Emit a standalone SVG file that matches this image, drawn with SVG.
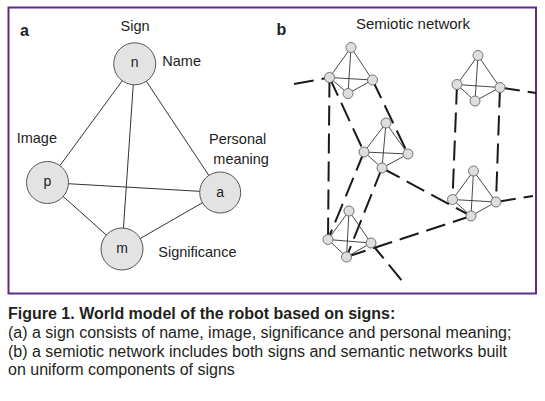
<svg xmlns="http://www.w3.org/2000/svg" width="545" height="401" viewBox="0 0 545 401">
<style>
text{font-family:"Liberation Sans",Arial,sans-serif;fill:#222}
.lbl{font-size:14.5px}
.ltr{font-size:14px;text-anchor:middle}
.pl{font-size:16px;font-weight:bold}
.cap{font-size:16px;fill:#231f20}
.big{fill:#e3e3e3;stroke:#555;stroke-width:1}
.edge{stroke:#333;stroke-width:1;fill:none}
.sm{fill:#dedede;stroke:#666;stroke-width:0.9}
.tedge{stroke:#333;stroke-width:0.9;fill:none}
.dash{stroke:#1a1a1a;stroke-width:2;fill:none;stroke-dasharray:20 8}
</style>
<rect width="545" height="401" fill="#fff"/>
<rect x="8.5" y="7.5" width="527.5" height="286" fill="#fff" stroke="#5a2d8c" stroke-width="2"/>

<!-- Panel a -->
<text class="pl" x="20" y="35.5">a</text>
<text class="lbl" x="135" y="30.5" text-anchor="middle">Sign</text>
<g id="edges-a">
<line class="edge" x1="134.7" y1="63.8" x2="47.5" y2="182.5"/>
<line class="edge" x1="134.7" y1="63.8" x2="122" y2="249"/>
<line class="edge" x1="134.7" y1="63.8" x2="220.2" y2="192.5"/>
<line class="edge" x1="47.5" y1="182.5" x2="220.2" y2="192.5"/>
<line class="edge" x1="47.5" y1="182.5" x2="122" y2="249"/>
<line class="edge" x1="122" y1="249" x2="220.2" y2="192.5"/>
</g>
<g id="node-n">
<circle class="big" cx="134.7" cy="63.8" r="21"/>
<text class="ltr" x="134.7" y="66.5">n</text>
<text class="lbl" x="162.3" y="66">Name</text>
</g>
<g id="node-p">
<circle class="big" cx="47.5" cy="182.5" r="21"/>
<text class="ltr" x="47.5" y="185.5">p</text>
<text class="lbl" x="16.7" y="142.7">Image</text>
</g>
<g id="node-a">
<circle class="big" cx="220.2" cy="192.5" r="20.5"/>
<text class="ltr" x="220.2" y="196.5">a</text>
<text class="lbl" x="209" y="144">Personal</text>
<text class="lbl" x="213.3" y="164">meaning</text>
</g>
<g id="node-m">
<circle class="big" cx="122" cy="249" r="21"/>
<text class="ltr" x="122" y="252.5">m</text>
<text class="lbl" x="158.3" y="256.7">Significance</text>
</g>

<!-- Panel b -->
<text class="pl" x="276.5" y="35">b</text>
<text x="413" y="29.3" text-anchor="middle" style="font-size:15px">Semiotic network</text>

<g id="connectors-b">
<line class="dash" x1="294" y1="84" x2="329.5" y2="77.5"/>
<line class="dash" x1="329.5" y1="77.5" x2="328" y2="239.5"/>
<line class="dash" x1="329.5" y1="77.5" x2="364" y2="152"/>
<line class="dash" x1="372.5" y1="80" x2="408" y2="154"/>
<line class="dash" x1="364" y1="152" x2="328" y2="239.5"/>
<line class="dash" x1="382" y1="168" x2="346.5" y2="257"/>
<line class="dash" x1="382" y1="168" x2="471" y2="216"/>
<line class="dash" x1="346.5" y1="257" x2="471" y2="216"/>
<line class="dash" x1="371" y1="243" x2="403" y2="282"/>
<line class="dash" x1="457" y1="84.5" x2="452.5" y2="199.5"/>
<line class="dash" x1="500" y1="87.5" x2="496" y2="202"/>
<line class="dash" x1="500" y1="87.5" x2="536" y2="93"/>
<line class="dash" x1="496" y1="202" x2="533" y2="196"/>
</g>

<g id="sign-1">
<path class="tedge" d="M351 47.5L329.5 77.5L348 93.5L372.5 80Z M351 47.5L348 93.5 M329.5 77.5L372.5 80"/>
<circle class="sm" cx="351" cy="47.5" r="5"/>
<circle class="sm" cx="329.5" cy="77.5" r="5"/>
<circle class="sm" cx="372.5" cy="80" r="5"/>
<circle class="sm" cx="348" cy="93.5" r="5"/>
</g>
<g id="sign-2">
<path class="tedge" d="M478 55.5L457 84.5L475 101L500 87.5Z M478 55.5L475 101 M457 84.5L500 87.5"/>
<circle class="sm" cx="478" cy="55.5" r="5"/>
<circle class="sm" cx="457" cy="84.5" r="5"/>
<circle class="sm" cx="500" cy="87.5" r="5"/>
<circle class="sm" cx="475" cy="101" r="5"/>
</g>
<g id="sign-3">
<path class="tedge" d="M386 123L364 152L382 168L408 154Z M386 123L382 168 M364 152L408 154"/>
<circle class="sm" cx="386" cy="123" r="5"/>
<circle class="sm" cx="364" cy="152" r="5"/>
<circle class="sm" cx="408" cy="154" r="5"/>
<circle class="sm" cx="382" cy="168" r="5"/>
</g>
<g id="sign-4">
<path class="tedge" d="M473.5 171L452.5 199.5L471 216L496 202Z M473.5 171L471 216 M452.5 199.5L496 202"/>
<circle class="sm" cx="473.5" cy="171" r="5"/>
<circle class="sm" cx="452.5" cy="199.5" r="5"/>
<circle class="sm" cx="496" cy="202" r="5"/>
<circle class="sm" cx="471" cy="216" r="5"/>
</g>
<g id="sign-5">
<path class="tedge" d="M349 211L328 239.5L346.5 257L371 243Z M349 211L346.5 257 M328 239.5L371 243"/>
<circle class="sm" cx="349" cy="211" r="5"/>
<circle class="sm" cx="328" cy="239.5" r="5"/>
<circle class="sm" cx="371" cy="243" r="5"/>
<circle class="sm" cx="346.5" cy="257" r="5"/>
</g>

<!-- Caption -->
<text class="cap" x="8" y="319" font-weight="bold">Figure 1. World model of the robot based on signs:</text>
<text class="cap" x="8" y="338">(a) a sign consists of name, image, significance and personal meaning;</text>
<text class="cap" x="8" y="356.5">(b) a semiotic network includes both signs and semantic networks built</text>
<text class="cap" x="8" y="375">on uniform components of signs</text>
</svg>
